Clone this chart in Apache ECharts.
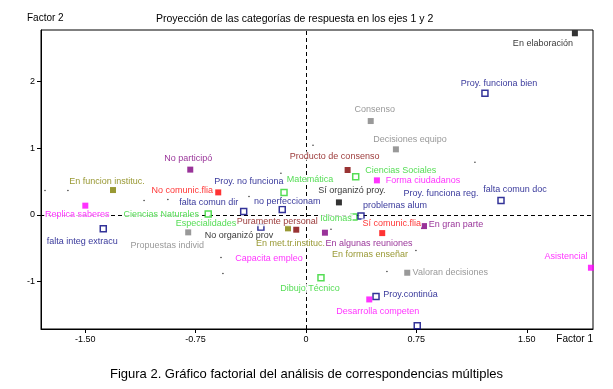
<!DOCTYPE html>
<html>
<head>
<meta charset="utf-8">
<script src="https://cdn.jsdelivr.net/npm/echarts@6/dist/echarts.min.js"></script>
<style>
  html, body { margin: 0; padding: 0; background: #fff; }
  #chart { width: 613px; height: 389px; }
</style>
</head>
<body>
<div id="chart"></div>
<script>
// categorias con marcador
const nombres = [
  'En elaboración', 'Proy. funciona bien', 'Consenso', 'Decisiones equipo',
  'Producto de consenso', 'Ciencias Sociales', 'Forma ciudadanos', 'Sí organizó proy.',
  'falta comun doc', 'En funcion instituc.', 'No participó', 'No comunic.flia',
  'Matemática', 'Proy. no funciona', 'falta comun dir', 'no perfeccionam',
  'Replica saberes', 'falta integ extracu', 'Ciencias Naturales', 'Puramente personal',
  'Propuestas individ', 'En met.tr.instituc.', 'Dibujo Técnico', 'Idiomas',
  'Proy. funciona reg.', 'Sí comunic.flia', 'En gran parte', 'En algunas reuniones',
  'Valoran decisiones', 'Asistencial', 'Proy.continúa', 'Desarrolla competen', ''
]
const factor1 = [
  1.827, 1.216, 0.440, 0.611,
  0.283, 0.338, 0.482, 0.224,
  1.325, -1.311, -0.786, -0.596,
  -0.149, -0.306, -0.423, -0.161,
  -1.499, -1.377, -0.664, -0.066,
  -0.800, -0.122, 0.102, 0.326,
  0.374, 0.518, 0.802, 0.129,
  0.688, 1.936, 0.476, 0.430, 0.756
]
const factor2 = [
  2.721, 1.822, 1.406, 0.982,
  0.672, 0.573, 0.517, 0.187,
  0.217, 0.372, 0.678, 0.337,
  0.337, -0.187, 0.052, 0.082,
  0.138, -0.207, 0.012, -0.222,
  -0.262, -0.202, -0.942, -0.033,
  -0.018, -0.273, -0.168, -0.267,
  -0.867, -0.792, -1.222, -1.267, -1.661
]
const grupo = [
  'negro', 'azul', 'gris', 'gris',
  'granate', 'verde', 'magenta', 'negro',
  'azul', 'oliva', 'morado', 'rojo',
  'verde', 'azul', 'azul', 'azul',
  'magenta', 'azul', 'verde', 'granate',
  'gris', 'oliva', 'verde', 'verde',
  'azul', 'rojo', 'morado', 'morado',
  'gris', 'magenta', 'azul', 'magenta', 'azul'
]

// etiquetas cuyo marcador queda tapado
const soloNombres = ['problemas alum', 'Especialidades', 'No organizó prov', 'Capacita empleo', 'En formas enseñar']
const soloF1 = [0.605, -0.679, -0.455, -0.251, 0.435]
const soloF2 = [0.142, -0.127, -0.307, -0.652, -0.600]
const soloGrupo = ['azul', 'verde', 'negro', 'magenta', 'oliva']

// puntos suplementarios (pequeños)
const puntosF1 = [-1.773, -1.617, -1.10, -0.938, -0.577, -0.564, 0.048, -0.170, -0.387, 1.148, 0.170, 0.747, 0.550]
const puntosF2 = [0.367, 0.367, 0.217, 0.232, -0.637, -0.877, 1.042, 0.622, 0.277, 0.787, -0.217, -0.532, -0.847]

const ticksX = [-1.5, -0.75, 0, 0.75, 1.5]
const ticksY = [-1, 0, 1, 2]

// estilos
const colores = {
  negro: { c: '#000000', hueco: false },
  azul: { c: '#000080', hueco: true },
  gris: { c: '#808080', hueco: false },
  granate: { c: '#800000', hueco: false },
  verde: { c: '#2ad42a', hueco: true },
  magenta: { c: '#ff00ff', hueco: false },
  oliva: { c: '#808000', hueco: false },
  morado: { c: '#800080', hueco: false },
  rojo: { c: '#ff0000', hueco: false }
}
// desplazamiento de la etiqueta respecto al marcador (px)
const desplaz = [
  [-32, 10], [14, -10], [4, -12], [14, -10],
  [-13, -14], [45, -6], [46, 0], [13, -12],
  [14, -11], [-6, -9], [-2, -11], [-36, -2],
  [26, -13], [-12, -46], [-35, -9], [5, -8],
  [-8, 9], [-21, 13], [-47, 0], [-19, -8],
  [-21, 13.5], [2.5, 15.5], [-11, 10.5], [-18, 1],
  [80, -23], [9.5, -10], [32, -1.5], [44, 11],
  [43, 0], [-25, -11], [34.5, -2], [8.5, 12], [0, 0]
]

const fuente = 'Liberation Sans, Arial, sans-serif'

function etiqueta(texto, color, offset) {
  return {
    show: texto !== '',
    formatter: texto,
    position: 'inside',
    align: 'center',
    verticalAlign: 'middle',
    offset: offset,
    color: color,
    fontSize: 9,
    fontFamily: fuente,
    backgroundColor: '#fff',
    padding: [0, 1]
  }
}

let datos = nombres.map((n, i) => {
  let g = colores[grupo[i]]
  return {
    name: n,
    value: [factor1[i], factor2[i]],
    itemStyle: g.hueco
      ? { color: '#fff', borderColor: g.c, borderWidth: 1.5 }
      : { color: g.c },
    label: etiqueta(n, g.c, desplaz[i])
  }
})

let datosSolo = soloNombres.map((n, i) => ({
  name: n,
  value: [soloF1[i], soloF2[i]],
  label: etiqueta(n, colores[soloGrupo[i]].c, [0, 0])
}))

let chart = echarts.init(document.getElementById('chart'))
chart.setOption({
  animation: false,
  backgroundColor: '#fff',
  grid: {
    left: 41,
    right: 20,
    top: 30,
    bottom: 60,
    show: true,
    borderColor: '#000',
    borderWidth: 1
  },
  xAxis: {
    type: 'value',
    min: -1.80,
    max: 1.95,
    splitLine: { show: false },
    axisLine: { onZero: false, lineStyle: { color: '#000', width: 1 } },
    axisTick: { customValues: ticksX, length: 4, lineStyle: { color: '#000' } },
    axisLabel: {
      customValues: ticksX,
      color: '#000',
      fontSize: 9,
      fontFamily: fuente,
      margin: 6,
      formatter: v => (v === 0 ? '0' : v.toFixed(2))
    }
  },
  yAxis: {
    type: 'value',
    min: -1.71,
    max: 2.77,
    splitLine: { show: false },
    axisLine: { onZero: false, lineStyle: { color: '#000', width: 1 } },
    axisTick: { customValues: ticksY, length: 4, lineStyle: { color: '#000' } },
    axisLabel: {
      customValues: ticksY,
      color: '#000',
      fontSize: 9,
      fontFamily: fuente,
      margin: 6
    }
  },
  graphic: [
    {
      type: 'text', left: 156, top: 14,
      style: { text: 'Proyección de las categorías de respuesta en los ejes 1 y 2', fill: '#000', font: '10.5px ' + fuente }
    },
    {
      type: 'text', left: 27, top: 13,
      style: { text: 'Factor 2', fill: '#000', font: '10px ' + fuente }
    },
    {
      type: 'text', right: 20, top: 334,
      style: { text: 'Factor 1', fill: '#000', font: '10px ' + fuente }
    },
    {
      type: 'text', left: 'center', top: 368,
      style: { text: 'Figura 2. Gráfico factorial del análisis de correspondencias múltiples', fill: '#000', font: '13px ' + fuente }
    }
  ],
  series: [
    {
      // ejes en cero, por debajo de todo
      type: 'scatter',
      data: [],
      z: 1,
      markLine: {
        z: 1,
        silent: true,
        symbol: 'none',
        label: { show: false },
        lineStyle: { color: '#000', type: [4, 3], width: 1 },
        data: [{ xAxis: 0 }, { yAxis: 0 }]
      }
    },
    {
      type: 'scatter',
      symbol: 'circle',
      symbolSize: 1.5,
      itemStyle: { color: '#000' },
      data: puntosF1.map((x, i) => [x, puntosF2[i]]),
      z: 2
    },
    {
      type: 'scatter',
      symbol: 'rect',
      symbolSize: 6,
      data: datos,
      z: 3
    },
    {
      type: 'scatter',
      symbol: 'rect',
      symbolSize: 1,
      itemStyle: { color: 'rgba(0,0,0,0)' },
      data: datosSolo,
      z: 4
    }
  ]
})
</script>
</body>
</html>
